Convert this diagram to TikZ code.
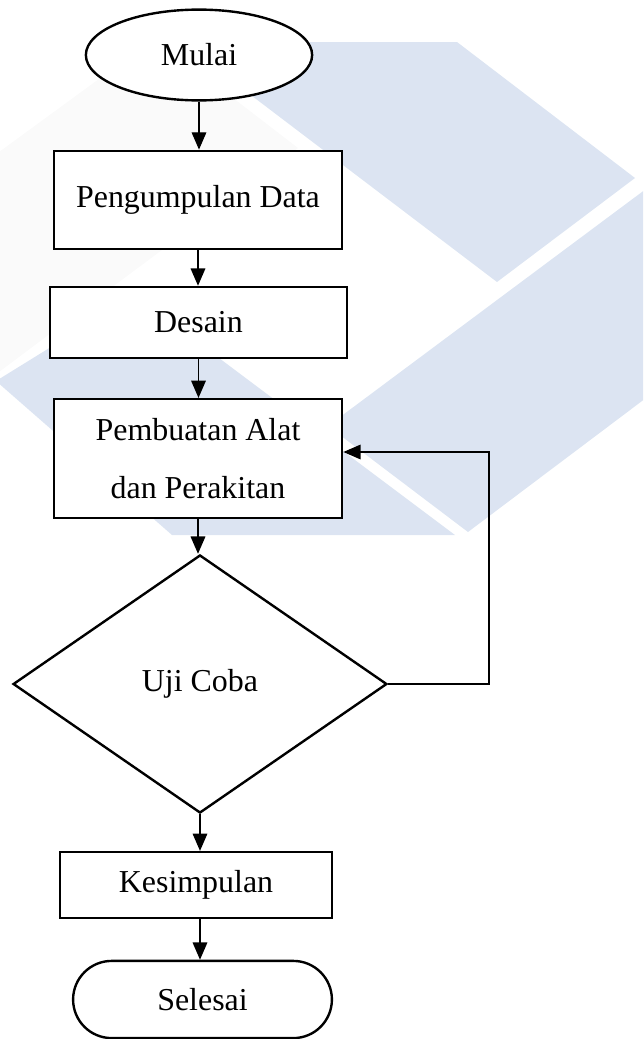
\documentclass[tikz,border=0pt]{standalone}
\usepackage{fontspec}
\setmainfont{Liberation Serif}
\usetikzlibrary{shapes.geometric,arrows.meta}
\definecolor{markblue}{RGB}{220,228,242}
\definecolor{markgrey}{RGB}{250,250,250}
\tikzset{
	chart/.style={draw=black, line width=0.9pt, fill=white, inner sep=0pt, font=\fontsize{12}{14.5}\selectfont},
	startnode/.style={chart, ellipse, minimum width=2.99cm, minimum height=1.20cm},
	procbox/.style={chart, rectangle, minimum width=3.81cm},
	decision/.style={chart, diamond, minimum width=4.94cm, minimum height=3.41cm},
	endnode/.style={chart, rectangle, rounded corners=0.51cm, minimum width=3.42cm, minimum height=1.02cm},
	flow/.style={line width=0.5pt, -{Triangle[length=6.5pt,width=5.5pt]}}
}

\begin{document}
\begin{tikzpicture}[x=0.01322cm, y=-0.01322cm]
			%%%%% START %%%%%
			
			\useasboundingbox (0, 0) rectangle (643, 1039);
			
			% watermark behind the chart
			\begin{scope}
				\clip (0, 0) rectangle (643, 1039);
				\fill[markgrey] (-5, 155) -- (155, 38) -- (298, 148) -- (-5, 375) -- cycle;
				\fill[markblue] (181, 42) -- (457, 42) -- (635, 178) -- (497, 282) -- cycle;
				\fill[markblue] (328, 426) -- (650, 186) -- (650, 395) -- (468, 532) -- cycle;
				\fill[markblue] (-4, 381) -- (135, 295) -- (455, 535) -- (172, 535) -- cycle;
			\end{scope}
			
			\node[startnode] (mulai) at (199, 55) {Mulai};
			\node[procbox, minimum height=1.30cm] (data) at (198, 200) {Pengumpulan Data};
			\node[procbox, minimum width=3.93cm, minimum height=0.94cm] (desain) at (198.5, 322.5) {Desain};
			\node[procbox, minimum height=1.57cm, align=center] (make) at (198, 458.5) {Pembuatan Alat\\[7pt]dan Perakitan};
			\node[decision] (test) at (200, 684) {Uji Coba};
			\node[procbox, minimum width=3.60cm, minimum height=0.87cm] (simpul) at (196, 885) {Kesimpulan};
			\node[endnode] (selesai) at (202.5, 999.5) {Selesai};
			
			\draw[flow] (mulai.south) -- (mulai.south |- data.north);
			\draw[flow] (data.south) -- (data.south |- desain.north);
			\draw[flow] (desain.south) -- (desain.south |- make.north);
			\draw[flow] (make.south) -- (make.south |- test.north);
			\draw[flow] (test.south) -- (test.south |- simpul.north);
			\draw[flow] (test.south |- simpul.south) -- (test.south |- selesai.north);
			
			% back to the build step
			\coordinate (loop) at (489, 452);
			\draw[flow] (test.east) -| (loop) -- (loop -| make.east);
			
			%%%%% END %%%%%
\end{tikzpicture}
\end{document}
